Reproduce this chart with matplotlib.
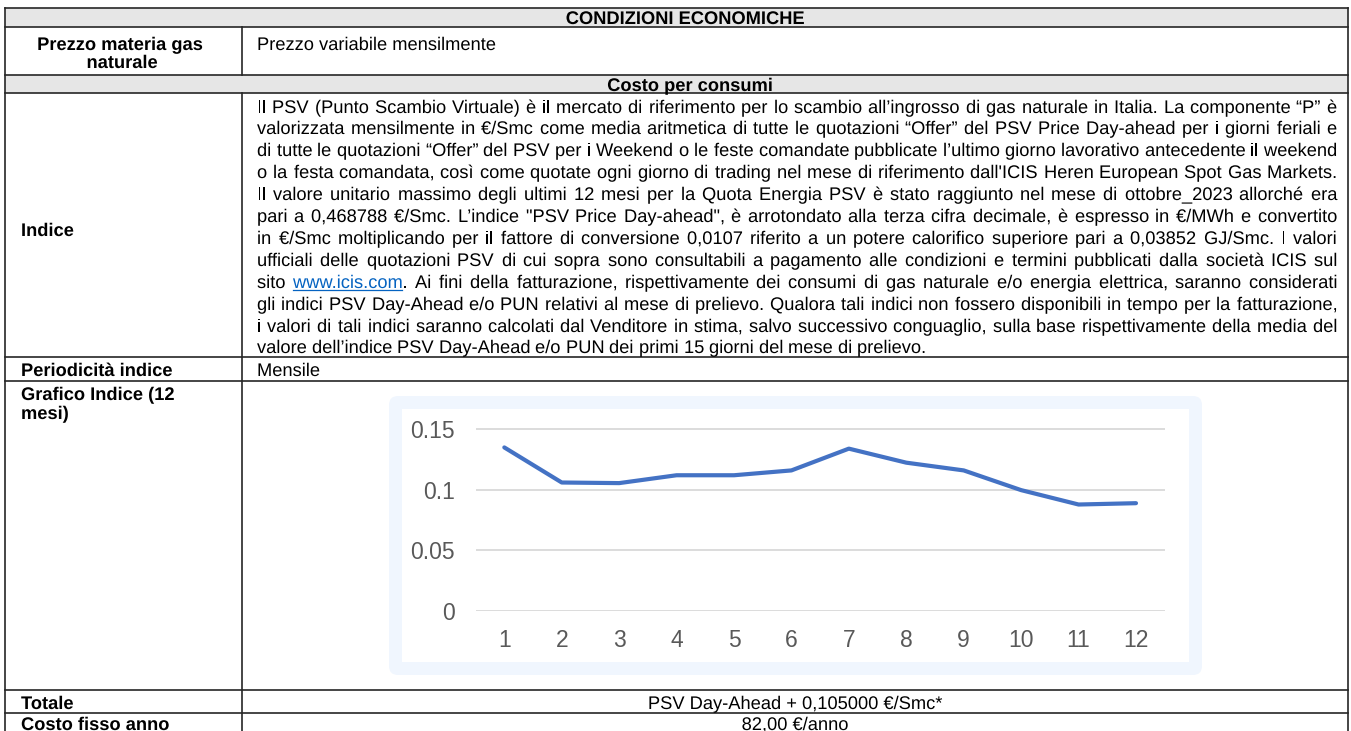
import matplotlib
matplotlib.use("Agg")
import matplotlib.pyplot as plt
import matplotlib.patheffects as pe
from matplotlib.patches import Rectangle, FancyBboxPatch

# ==================================================
# DATA
# ==================================================

MONTHS = [1, 2, 3, 4, 5, 6, 7, 8, 9, 10, 11, 12]
PSV_VALUES = [0.135, 0.106, 0.1055, 0.112, 0.112, 0.116,
              0.134, 0.1224, 0.116, 0.0997, 0.0878, 0.0889]

Y_TICKS = [0, 0.05, 0.1, 0.15]
Y_TICK_LABELS = ["0", "0.05", "0.1", "0.15"]
X_TICK_LABELS = [str(m) for m in MONTHS]

TITLE = "CONDIZIONI ECONOMICHE"
SUBTITLE = "Costo per consumi"

LEFT_LABELS = {
    "prezzo": ["Prezzo materia gas", "naturale"],
    "indice": ["Indice"],
    "periodo": ["Periodicità indice"],
    "grafico": ["Grafico Indice (12", "mesi)"],
    "totale": ["Totale"],
    "fisso": ["Costo fisso anno"],
}

PREZZO_TEXT = "Prezzo variabile mensilmente"
PERIODO_TEXT = "Mensile"
TOTALE_TEXT = "PSV Day-Ahead + 0,105000 €/Smc*"
FISSO_TEXT = "82,00 €/anno"
LINK_TEXT = "www.icis.com"

PARAGRAPH = [
    "Il PSV (Punto Scambio Virtuale) è il mercato di riferimento per lo scambio all’ingrosso di gas naturale in Italia. La componente “P” è",
    "valorizzata mensilmente in €/Smc come media aritmetica di tutte le quotazioni “Offer” del PSV Price Day-ahead per i giorni feriali e",
    "di tutte le quotazioni “Offer” del PSV per i Weekend o le feste comandate pubblicate l’ultimo giorno lavorativo antecedente il weekend",
    "o la festa comandata, così come quotate ogni giorno di trading nel mese di riferimento dall'ICIS Heren European Spot Gas Markets.",
    "Il valore unitario massimo degli ultimi 12 mesi per la Quota Energia PSV è stato raggiunto nel mese di ottobre_2023 allorché era",
    "pari a 0,468788 €/Smc. L’indice \"PSV Price Day-ahead\", è arrotondato alla terza cifra decimale, è espresso in €/MWh e convertito",
    "in €/Smc moltiplicando per il fattore di conversione 0,0107 riferito a un potere calorifico superiore pari a 0,03852 GJ/Smc. I valori",
    "ufficiali delle quotazioni PSV di cui sopra sono consultabili a pagamento alle condizioni e termini pubblicati dalla società ICIS sul",
    "sito www.icis.com. Ai fini della fatturazione, rispettivamente dei consumi di gas naturale e/o energia elettrica, saranno considerati",
    "gli indici PSV Day-Ahead e/o PUN relativi al mese di prelievo. Qualora tali indici non fossero disponibili in tempo per la fatturazione,",
    "i valori di tali indici saranno calcolati dal Venditore in stima, salvo successivo conguaglio, sulla base rispettivamente della media del",
    "valore dell’indice PSV Day-Ahead e/o PUN dei primi 15 giorni del mese di prelievo.",
]

# ==================================================
# PAGE SETUP (page axes in pixel units)
# ==================================================

W, H = 1351, 731
FONT = "Liberation Sans"
LINE_COLOR = "#262626"
HEAD_BG = "#E6E6E6"
LINK_COLOR = "#0563C1"

fig = plt.figure(figsize=(W / 100, H / 100), dpi=100)
page = fig.add_axes([0, 0, 1, 1])
page.set_xlim(0, W)
page.set_ylim(H, 0)
page.axis("off")

renderer = fig.canvas.get_renderer()

X_LEFT, X_DIV, X_RIGHT = 5, 242, 1348
ROWS = [8, 26.5, 75, 93, 357, 380.5, 690, 713]

# header backgrounds
page.add_patch(Rectangle((X_LEFT, ROWS[0]), X_RIGHT - X_LEFT, ROWS[1] - ROWS[0],
                         facecolor=HEAD_BG, edgecolor="none"))
page.add_patch(Rectangle((X_LEFT, ROWS[2]), X_RIGHT - X_LEFT, ROWS[3] - ROWS[2],
                         facecolor=HEAD_BG, edgecolor="none"))

# grid lines
for y in ROWS:
    page.plot([X_LEFT, X_RIGHT], [y, y], color=LINE_COLOR, lw=1.2)
page.plot([X_LEFT, X_LEFT], [ROWS[0], H], color=LINE_COLOR, lw=1.2)
page.plot([X_RIGHT, X_RIGHT], [ROWS[0], H], color=LINE_COLOR, lw=1.2)
page.plot([X_DIV, X_DIV], [ROWS[1], ROWS[2]], color=LINE_COLOR, lw=1.2)
page.plot([X_DIV, X_DIV], [ROWS[3], H], color=LINE_COLOR, lw=1.2)


def measure(t):
    return t.get_window_extent(renderer).width


# font size chosen so the densest paragraph line fills the cell width
PAR_X0, PAR_X1 = 257, 1337
probe = page.text(0, 0, PARAGRAPH[2], fontsize=12, family=FONT)
FS = 12 * (PAR_X1 - PAR_X0) / measure(probe)
probe.remove()
CAP = 0.36 * FS * 100 / 72


def put(x, yc, s, ha="left", bold=False, color="black"):
    # text drawn through a path effect so words share an exact baseline
    return page.text(x, round(yc + CAP), s, fontsize=FS, family=FONT, ha=ha,
                     va="baseline", color=color,
                     fontweight="bold" if bold else "normal",
                     path_effects=[pe.Normal()])


# ==================================================
# TEXT CELLS
# ==================================================

put(685, 17.5, TITLE, ha="center", bold=True)
put(690, 84.5, SUBTITLE, ha="center", bold=True)

put(120, 43, LEFT_LABELS["prezzo"][0], ha="center", bold=True)
put(122, 61, LEFT_LABELS["prezzo"][1], ha="center", bold=True)
put(PAR_X0, 43, PREZZO_TEXT)

put(21, 229, LEFT_LABELS["indice"][0], bold=True)
put(21, 369, LEFT_LABELS["periodo"][0], bold=True)
put(PAR_X0, 369, PERIODO_TEXT)
put(21, 393, LEFT_LABELS["grafico"][0], bold=True)
put(21, 412, LEFT_LABELS["grafico"][1], bold=True)
put(21, 702, LEFT_LABELS["totale"][0], bold=True)
put(21, 723.5, LEFT_LABELS["fisso"][0], bold=True)
put((X_DIV + X_RIGHT) / 2, 702, TOTALE_TEXT, ha="center")
put((X_DIV + X_RIGHT) / 2, 723.5, FISSO_TEXT, ha="center")

# ==================================================
# JUSTIFIED PARAGRAPH
# ==================================================

sp_probe = page.text(0, 0, "x x", fontsize=FS, family=FONT)
x_probe = page.text(0, 0, "xx", fontsize=FS, family=FONT)
SPACE_W = measure(sp_probe) - measure(x_probe)
sp_probe.remove()
x_probe.remove()

LINE_Y0, LINE_STEP = 106, 21.9
for i, line in enumerate(PARAGRAPH):
    yc = LINE_Y0 + i * LINE_STEP
    pieces = []
    for w in line.split(" "):
        if w.startswith(LINK_TEXT):
            a = put(0, yc, LINK_TEXT, color=LINK_COLOR)
            b = put(0, yc, w[len(LINK_TEXT):])
            pieces.append([a, b])
        else:
            pieces.append([put(0, yc, w)])
    widths = [sum(measure(t) for t in p) for p in pieces]
    if i == len(PARAGRAPH) - 1:
        gap = SPACE_W
    else:
        gap = (PAR_X1 - PAR_X0 - sum(widths)) / (len(pieces) - 1)
    x = PAR_X0
    for p, wd in zip(pieces, widths):
        xx = round(x)
        for t in p:
            t.set_x(xx)
            tw = measure(t)
            if t.get_color() == LINK_COLOR:
                ul = round(yc + CAP) + 2
                page.plot([xx, xx + tw], [ul, ul], color=LINK_COLOR, lw=0.9)
            xx += tw
        x += wd + gap

# ==================================================
# CHART FRAME
# ==================================================

page.add_patch(FancyBboxPatch((389, 396), 813, 279,
                              boxstyle="round,pad=0,rounding_size=9",
                              facecolor="#F0F6FE", edgecolor="none"))
page.add_patch(Rectangle((402, 409), 787, 253, facecolor="white",
                         edgecolor="none"))

# ==================================================
# LINE CHART
# ==================================================

ax = fig.add_axes([475.6 / W, (H - 610.7) / H, 689.1 / W, 193.5 / H])
ax.set_facecolor("none")
ax.plot(MONTHS, PSV_VALUES, color="#4472C4", lw=3.0,
        solid_capstyle="round", solid_joinstyle="round", clip_on=False,
        zorder=3)

ax.set_xlim(0.5, 12.5)
ax.set_ylim(0, 0.16)
ax.set_xticks(MONTHS)
ax.set_xticklabels(X_TICK_LABELS)
ax.set_yticks(Y_TICKS)
ax.set_yticklabels(Y_TICK_LABELS)
ax.grid(axis="y", color="#D9D9D9", lw=1.3)
ax.set_axisbelow(True)
for s in ax.spines.values():
    s.set_visible(False)
ax.tick_params(length=0, labelsize=16.5, labelcolor="#595959")
ax.tick_params(axis="y", pad=15)
ax.tick_params(axis="x", pad=13)
for lab in ax.get_xticklabels() + ax.get_yticklabels():
    lab.set_family(FONT)

fig.savefig("out.png", dpi=100)
